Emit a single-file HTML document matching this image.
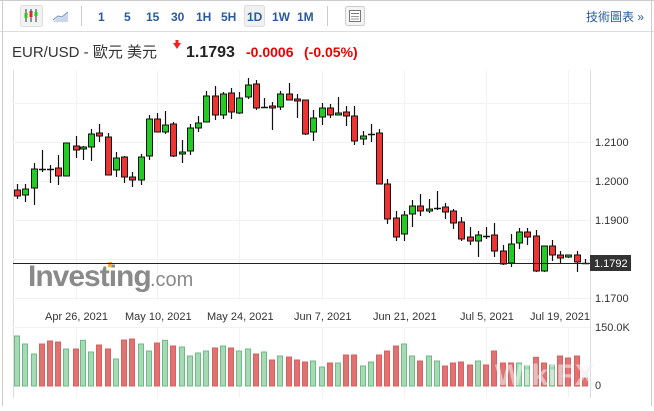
<!DOCTYPE html>
<html><head><meta charset="utf-8"><style>
body{margin:0;width:654px;height:406px;background:#fff;overflow:hidden;font-family:"Liberation Sans","Noto Sans CJK TC",sans-serif;}
</style></head><body>
<svg id="s" width="654" height="406" xmlns="http://www.w3.org/2000/svg" font-family="Liberation Sans, Noto Sans CJK TC, sans-serif">
<rect x="0" y="0" width="654" height="406" fill="#fff"/>
<line x1="0" y1="0.5" x2="654" y2="0.5" stroke="#ccc"/>
<line x1="0" y1="31.5" x2="654" y2="31.5" stroke="#ddd"/>
<line x1="2.5" y1="0" x2="2.5" y2="406" stroke="#ccc"/>
<line x1="651.5" y1="0" x2="651.5" y2="406" stroke="#ccc"/>
<!-- toolbar -->
<rect x="20.5" y="5.5" width="22" height="21" rx="2" fill="#f2f2f2" stroke="#ddd"/>
<line x1="26" y1="9" x2="26" y2="22" stroke="#333"/><rect x="24.5" y="13" width="3" height="5" fill="#2c2"/>
<line x1="31" y1="9" x2="31" y2="22" stroke="#333"/><rect x="29.5" y="11" width="3" height="6" fill="#e22"/>
<line x1="36" y1="9" x2="36" y2="22" stroke="#333"/><rect x="34.5" y="12" width="3" height="4" fill="#2c2"/>
<path d="M53 22 L58 17 L62 18 L68 13 L68 22 Z" fill="#c8d8ea"/><path d="M53 20 L58 16 L62 17 L68 12" stroke="#6b8fc0" fill="none"/>
<line x1="81.5" y1="6" x2="81.5" y2="26" stroke="#ccc"/>
<g font-size="12" fill="#2a5a9a" font-weight="bold">
<text x="98" y="21">1</text><text x="124" y="21">5</text><text x="146" y="21">15</text><text x="171" y="21">30</text><text x="196" y="21">1H</text><text x="221" y="21">5H</text>
<rect x="244.5" y="5.5" width="20" height="21" rx="2" fill="#f0f0f0" stroke="#ddd"/>
<text x="247" y="21">1D</text><text x="272" y="21">1W</text><text x="297" y="21">1M</text></g>
<line x1="327.5" y1="6" x2="327.5" y2="26" stroke="#ccc"/>
<rect x="345.5" y="6.5" width="19" height="19" rx="2" fill="#f4f4f4" stroke="#ccc"/>
<rect x="349.5" y="10.5" width="11" height="11" fill="#fff" stroke="#777"/><line x1="351" y1="13.5" x2="359" y2="13.5" stroke="#777"/><line x1="351" y1="16.5" x2="359" y2="16.5" stroke="#999"/><line x1="351" y1="19" x2="359" y2="19" stroke="#999"/>
<text x="586" y="21" font-size="12" fill="#2a5a9a">技術圖表 »</text>
<!-- title -->
<text x="12" y="57" font-size="15" fill="#333">EUR/USD - 歐元 美元</text>
<path d="M174 44 l4 0 l0 -3 l-2 0 z" fill="none"/><polygon points="173,43 181,43 177,49" fill="#e22"/><rect x="175.5" y="40" width="3" height="4" fill="#e22"/>
<text x="186" y="57" font-size="16" font-weight="bold" fill="#222">1.1793</text>
<text x="246" y="57" font-size="14" font-weight="bold" fill="#e00">-0.0006</text>
<text x="304" y="57" font-size="14" font-weight="bold" fill="#e00">(-0.05%)</text>
<!-- chart frame -->
<line x1="13.5" y1="70" x2="13.5" y2="398" stroke="#ddd"/>
<line x1="590.5" y1="70" x2="590.5" y2="398" stroke="#ddd"/>
<g id="grid" stroke="#f2f2f2"></g>
<g font-size="11" fill="#333">
<text x="595" y="146">1.2100</text><text x="595" y="185">1.2000</text><text x="595" y="224">1.1900</text><text x="595" y="302">1.1700</text>
<text x="595" y="331">150.0K</text><text x="595" y="389">0</text>
<text x="45" y="320">Apr 26, 2021</text><text x="125" y="320">May 10, 2021</text><text x="207" y="320">May 24, 2021</text><text x="294" y="320">Jun 7, 2021</text><text x="373" y="320">Jun 21, 2021</text><text x="460" y="320">Jul 5, 2021</text><text x="530" y="320">Jul 19, 2021</text>
</g>
<text x="28" y="286" font-size="30" font-weight="bold" fill="#8a8a8a" letter-spacing="-1">Investing</text>
<text x="150" y="286" font-size="20" fill="#8a8a8a">.com</text>
<rect x="108" y="262" width="4" height="5" fill="#f0b040"/>
<g id="vol"></g>
<g id="cdl"></g>
<line x1="13" y1="263.5" x2="590" y2="263.5" stroke="#222"/>
<rect x="590" y="255" width="41" height="16" fill="#333"/>
<text x="594" y="267" font-size="11" fill="#fff">1.1792</text>
<text x="495" y="385" font-size="30" font-weight="bold" fill="#eee" opacity="0.6">WikiFX</text>
</svg>
<script>
var ns="http://www.w3.org/2000/svg";
function el(p,t,a){var e=document.createElementNS(ns,t);for(var k in a)e.setAttribute(k,a[k]);p.appendChild(e);return e;}
var g=document.getElementById('grid');
[103,142,181,220,259,298,327].forEach(function(y){el(g,'line',{x1:13,x2:590,y1:y+.5,y2:y+.5});});
[76,157,239,322,404,486,568].forEach(function(x){el(g,'line',{x1:x+.5,x2:x+.5,y1:70,y2:300});el(g,'line',{x1:x+.5,x2:x+.5,y1:327,y2:398});});
// x, type(g/r/d), bodyTop, bodyBot, high, low
var C=[[17,'r',190,196,184,199],[25,'g',189,195,184,202],[34,'g',169,188,163,205],[42,'d',169,169,150,172],[50,'d',169,169,165,183],[58,'r',168,176,155,185],[66,'g',143,176,143,176],[76,'r',146,150,136,158],[83,'g',147,149,146,160],[91,'g',134,147,129,161],[99,'r',133,136,124,142],[108,'r',137,175,133,175],[116,'g',158,170,152,177],[124,'r',157,177,156,183],[132,'r',177,180,172,187],[141,'g',157,180,154,185],[149,'g',119,156,115,160],[157,'r',119,132,113,132],[165,'g',125,132,111,134],[173,'r',124,156,122,157],[182,'g',152,154,140,163],[190,'g',128,151,124,155],[198,'g',123,128,116,132],[206,'g',96,122,91,122],[215,'r',96,115,86,120],[223,'g',94,115,92,119],[231,'r',93,112,88,119],[239,'g',98,113,92,114],[248,'g',85,97,78,99],[256,'r',84,108,80,110],[264,'d',107,107,98,108],[272,'r',106,108,102,130],[280,'g',94,107,91,110],[289,'r',94,100,83,100],[297,'r',99,101,94,118],[305,'r',100,134,100,135],[313,'g',118,132,110,141],[322,'g',108,117,103,125],[330,'r',108,115,104,118],[338,'g',113,115,97,115],[346,'r',112,116,106,126],[354,'r',116,141,106,145],[363,'g',136,139,131,145],[371,'d',134,134,124,142],[379,'r',133,184,129,184],[387,'r',184,219,179,224],[396,'r',218,237,211,241],[404,'g',215,234,211,241],[412,'g',206,214,200,227],[420,'r',206,211,194,216],[429,'g',209,211,199,213],[437,'d',208,208,191,210],[445,'r',207,212,203,219],[453,'r',211,223,209,229],[461,'r',222,239,217,241],[470,'r',237,241,227,245],[478,'g',235,241,231,257],[486,'d',236,236,227,239],[494,'r',235,251,223,257],[503,'r',251,264,245,265],[511,'g',244,263,234,267],[519,'g',232,243,228,249],[527,'r',232,237,228,245],[536,'r',236,271,230,272],[544,'g',246,271,246,272],[552,'r',246,255,240,261],[560,'r',255,258,251,263],[568,'g',255,257,255,258],[577,'r',255,262,251,272],[585,'d',263,263,259,264]];
var cg=document.getElementById('cdl');
C.forEach(function(c){var x=c[0];
el(cg,'line',{x1:x+.5,x2:x+.5,y1:c[4],y2:c[5],stroke:'#111','stroke-width':1.2});
if(c[1]=='d'){el(cg,'line',{x1:x-3,x2:x+4,y1:c[2]+.5,y2:c[2]+.5,stroke:'#111','stroke-width':1.5});}
else{var h=Math.max(c[3]-c[2],2);el(cg,'rect',{x:x-2.5,y:c[2],width:6,height:h,fill:c[1]=='g'?'#22cc22':'#ee3333',stroke:'#111','stroke-width':1});}
});
var V="g108 g132 g162 r132 r123 r126 g147 r147 g121 g156 r135 r147 g177 r120 r117 g132 g153 r129 g121 r138 g141 g168 g159 g153 r144 g138 r144 g153 g147 r162 g156 r180 g168 r171 r180 r186 g183 g201 r189 g189 r165 r165 g198 g186 r165 r153 r138 g132 g168 r183 g168 g183 r198 r189 r186 r195 g183 r195 r153 r189 r189 g189 g198 r172 r189 g195 r168 r174 r168 r234".split(' ');
var vg=document.getElementById('vol');
V.forEach(function(v,i){var x=C[i][0];var top=parseInt(v.slice(1))/3+300;var gr=v[0]=='g';
el(vg,'rect',{x:x-2.5,y:top,width:5,height:386-top,fill:gr?'#a6dab5':'#e07272',stroke:gr?'#6fb985':'#d86060','stroke-width':1});});
</script>
</body></html>
